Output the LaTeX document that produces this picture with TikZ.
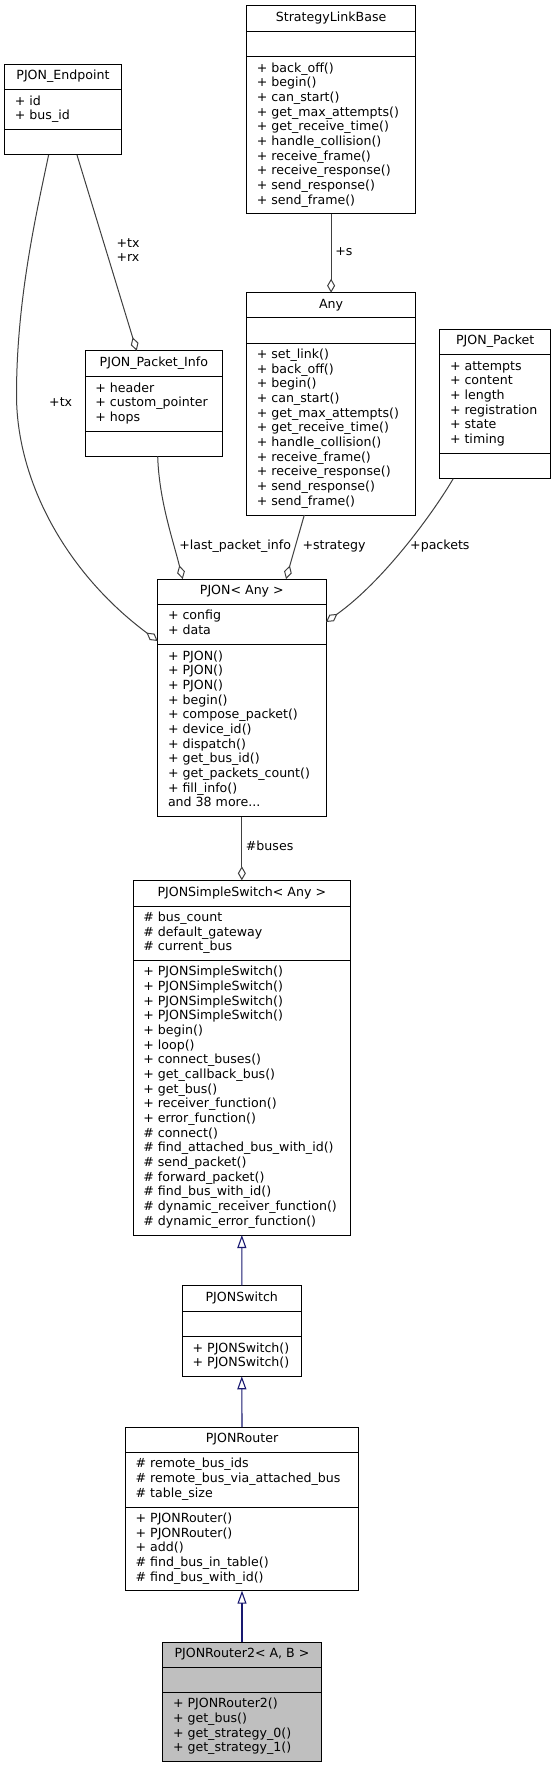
\documentclass[tikz,border=0pt]{standalone}
\usepackage{fontspec}
\setmainfont{DejaVu Sans}
\usetikzlibrary{arrows.meta}
\definecolor{edgegray}{HTML}{404040}
\definecolor{inhblue}{HTML}{191970}
\definecolor{boxgray}{HTML}{BFBFBF}
\newcommand{\Z}{\strut}
\newcommand{\ClassBox}[9]{%
  \node[umlbox, fill=#9, anchor=north west, minimum width={#4pt-#2pt}, minimum height={#5pt-#3pt}] (#1) at (#2,#3) {};
  \draw[boxline] (#2,#6) -- (#4,#6);
  \draw[boxline] (#2,#7) -- (#4,#7);
  \node[umltext] (#1-title) at ({(#2+#4)/2},{(#3+#6)/2}) {\Z #8};
}
\newcommand{\Members}[5]{%
  \node[umltext, align=left, anchor=west] (#1) at ({#2+10.3},{(#3+#4)/2}) {#5};
}
\begin{document}
\begin{tikzpicture}[x=1pt,y=-1pt,
  umlbox/.style={draw=black, line width=1pt, inner sep=0pt, outer sep=0pt},
  boxline/.style={draw=black, line width=1pt},
  umltext/.style={font=\fontsize{12.6}{14.67}\selectfont, inner sep=0pt, outer sep=0pt, text=black},
  lbl/.style={font=\fontsize{12.6}{14.67}\selectfont, inner sep=0pt, anchor=west, text=black},
  assoc/.style={draw=edgegray, line width=1pt, -{Diamond[open, length=14pt, width=8pt, line width=1pt]}},
  inherit/.style={draw=inhblue, line width=1.1pt, -{Triangle[open, length=13pt, width=9pt, line width=1.1pt]}}
]
\useasboundingbox[fill=white] (0,0) rectangle (556,1768);

% StrategyLinkBase
\ClassBox{slb}{246.5}{5.7}{415.7}{213.7}{31.3}{56.7}{StrategyLinkBase}{white}
\Members{slb-m}{246.5}{56.7}{213.7}{\Z + back\_off()\\\Z + begin()\\\Z + can\_start()\\\Z + get\_max\_attempts()\\\Z + get\_receive\_time()\\\Z + handle\_collision()\\\Z + receive\_frame()\\\Z + receive\_response()\\\Z + send\_response()\\\Z + send\_frame()}

% PJON_Endpoint
\ClassBox{ep}{4.6}{64.7}{121.3}{155}{89.3}{130}{PJON\_Endpoint}{white}
\Members{ep-a}{4.6}{89.3}{130}{\Z + id\\\Z + bus\_id}

% Any
\ClassBox{any}{246.5}{292.7}{415.7}{515}{317.7}{343}{Any}{white}
\Members{any-m}{246.5}{343}{515}{\Z + set\_link()\\\Z + back\_off()\\\Z + begin()\\\Z + can\_start()\\\Z + get\_max\_attempts()\\\Z + get\_receive\_time()\\\Z + handle\_collision()\\\Z + receive\_frame()\\\Z + receive\_response()\\\Z + send\_response()\\\Z + send\_frame()}

% PJON_Packet_Info
\ClassBox{pi}{85.1}{350.7}{222.7}{456.3}{376.7}{431}{PJON\_Packet\_Info}{white}
\Members{pi-a}{85.1}{376.7}{431}{\Z + header\\\Z + custom\_pointer\\\Z + hops}

% PJON_Packet
\ClassBox{pk}{439.7}{329.3}{550.7}{478.7}{354.3}{453.3}{PJON\_Packet}{white}
\Members{pk-a}{439.7}{354.3}{453.3}{\Z + attempts\\\Z + content\\\Z + length\\\Z + registration\\\Z + state\\\Z + timing}

% PJON< Any >
\ClassBox{pj}{157.7}{579}{326}{816.7}{604.3}{644.3}{PJON< Any >}{white}
\Members{pj-a}{157.7}{604.3}{644.3}{\Z + config\\\Z + data}
\Members{pj-m}{157.7}{644.3}{816.7}{\Z + PJON()\\\Z + PJON()\\\Z + PJON()\\\Z + begin()\\\Z + compose\_packet()\\\Z + device\_id()\\\Z + dispatch()\\\Z + get\_bus\_id()\\\Z + get\_packets\_count()\\\Z + fill\_info()\\\Z and 38 more...}

% PJONSimpleSwitch< Any >
\ClassBox{ss}{133}{880.3}{350.7}{1235}{906}{960.3}{PJONSimpleSwitch< Any >}{white}
\Members{ss-a}{133}{906}{960.3}{\Z \# bus\_count\\\Z \# default\_gateway\\\Z \# current\_bus}
\Members{ss-m}{133}{960.3}{1235}{\Z + PJONSimpleSwitch()\\\Z + PJONSimpleSwitch()\\\Z + PJONSimpleSwitch()\\\Z + PJONSimpleSwitch()\\\Z + begin()\\\Z + loop()\\\Z + connect\_buses()\\\Z + get\_callback\_bus()\\\Z + get\_bus()\\\Z + receiver\_function()\\\Z + error\_function()\\\Z \# connect()\\\Z \# find\_attached\_bus\_with\_id()\\\Z \# send\_packet()\\\Z \# forward\_packet()\\\Z \# find\_bus\_with\_id()\\\Z \# dynamic\_receiver\_function()\\\Z \# dynamic\_error\_function()}

% PJONSwitch
\ClassBox{sw}{182.3}{1285.7}{301.3}{1376.3}{1311}{1336.7}{PJONSwitch}{white}
\Members{sw-m}{182.3}{1336.7}{1376.3}{\Z + PJONSwitch()\\\Z + PJONSwitch()}

% PJONRouter
\ClassBox{rt}{125.3}{1427}{358.7}{1590.7}{1452.3}{1507}{PJONRouter}{white}
\Members{rt-a}{125.3}{1452.3}{1507}{\Z \# remote\_bus\_ids\\\Z \# remote\_bus\_via\_attached\_bus\\\Z \# table\_size}
\Members{rt-m}{125.3}{1507}{1590.7}{\Z + PJONRouter()\\\Z + PJONRouter()\\\Z + add()\\\Z \# find\_bus\_in\_table()\\\Z \# find\_bus\_with\_id()}

% PJONRouter2< A, B >
\ClassBox{r2}{162.7}{1642}{321.3}{1761}{1667.3}{1692.7}{PJONRouter2< A, B >}{boxgray}
\Members{r2-m}{162.7}{1692.7}{1761}{\Z + PJONRouter2()\\\Z + get\_bus()\\\Z + get\_strategy\_0()\\\Z + get\_strategy\_1()}

% associations
\draw[assoc] (slb.south) -- (any.north);
\node[lbl] (l-s) at (335.2,252.7) {\Z +s};

\draw[assoc] ([xshift=72.4pt]ep.south west) -- ([xshift=51.6pt]pi.north west);
\node[lbl, anchor=center, align=center] (l-txrx) at (128,251.7) {\Z +tx\\\Z +rx};

\draw[assoc] ([xshift=44pt]ep.south west) .. controls (36,215) and (16.5,300) .. (16.5,395)
  .. controls (16.5,480) and (65,572) .. ([yshift=-62pt]pj.north west);
\node[lbl] (l-tx) at (49,403.3) {\Z +tx};

\draw[assoc] ([xshift=72.6pt]pi.south west) .. controls (159,500) and (173,540) .. ([xshift=25pt]pj.north west);
\node[lbl] (l-lpi) at (179.1,546.7) {\Z +last\_packet\_info};

\draw[assoc] ([xshift=57.8pt]any.south west) -- ([xshift=128.3pt]pj.north west);
\node[lbl] (l-str) at (302.3,546.7) {\Z +strategy};

\draw[assoc] ([xshift=13.5pt]pk.south west) .. controls (435,510) and (385,580) .. ([yshift=-43pt]pj.north east);
\node[lbl] (l-pk) at (410,546.7) {\Z +packets};

\draw[assoc] (pj.south) -- (ss.north);
\node[lbl] (l-bus) at (245.7,847.3) {\Z \#buses};

% inheritance
\draw[inherit] (sw.north) -- (ss.south);
\draw[inherit] (rt.north) -- (sw.south);
\draw[inherit] (r2.north) -- (rt.south);
\end{tikzpicture}
\end{document}
